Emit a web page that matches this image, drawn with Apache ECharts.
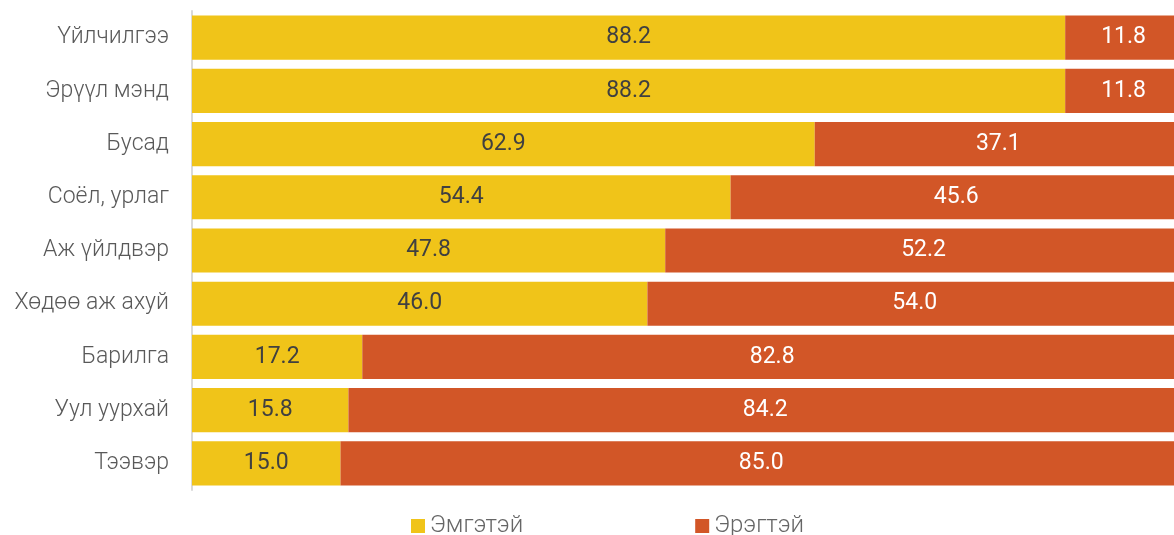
<!DOCTYPE html>
<html lang="mn">
<head>
    <meta charset="UTF-8">
    <title>Salbar</title>
    <script src="https://cdn.jsdelivr.net/npm/echarts@6/dist/echarts.min.js"></script>
    <style>
        body { margin: 0; background: #fff; }
    </style>
</head>
<body>
    <div id="chart" style="width: 1174px; height: 535px;"></div>
    <script>
        // salbaruud (deerees doosh)
        const categories = ['Үйлчилгээ', 'Эрүүл мэнд', 'Бусад', 'Соёл, урлаг', 'Аж үйлдвэр', 'Хөдөө аж ахуй', 'Барилга', 'Уул уурхай', 'Тээвэр'];
        const women = [88.2, 88.2, 62.9, 54.4, 47.8, 46.0, 17.2, 15.8, 15.0];
        const men = [11.8, 11.8, 37.1, 45.6, 52.2, 54.0, 82.8, 84.2, 85.0];

        const chart = echarts.init(document.getElementById('chart'));

        chart.setOption({
            animation: false,
            textStyle: { fontFamily: 'Roboto' },
            grid: { left: 192, top: 11, width: 990, bottom: 45, outerBoundsMode: 'none' },
            legend: {
                top: 509,
                left: 406,
                itemWidth: 14,
                itemHeight: 14,
                itemGap: 172,
                icon: 'rect',
                textStyle: { fontSize: 24, color: '#666', fontWeight: 300 },
                data: ['Эмгэтэй', 'Эрэгтэй']
            },
            xAxis: {
                type: 'value',
                min: 0,
                max: 100,
                show: false
            },
            yAxis: {
                type: 'category',
                inverse: true,
                data: categories,
                axisLine: { lineStyle: { color: '#d9d9d9', width: 2 } },
                axisTick: { show: false },
                axisLabel: { fontSize: 23, color: '#595959', margin: 23, fontWeight: 300 }
            },
            series: [
                {
                    name: 'Эмгэтэй',
                    type: 'bar',
                    stack: 'total',
                    barCategoryGap: '17%',
                    data: women,
                    itemStyle: { color: '#f0c419' },
                    label: {
                        show: true,
                        position: 'inside',
                        fontSize: 23,
                        color: '#404040',
                        formatter: p => p.value.toFixed(1)
                    }
                },
                {
                    name: 'Эрэгтэй',
                    type: 'bar',
                    stack: 'total',
                    data: men,
                    itemStyle: { color: '#d25627' },
                    label: {
                        show: true,
                        position: 'inside',
                        fontSize: 23,
                        color: '#ffffff',
                        formatter: p => p.value.toFixed(1)
                    }
                }
            ]
        });
    </script>
</body>
</html>
